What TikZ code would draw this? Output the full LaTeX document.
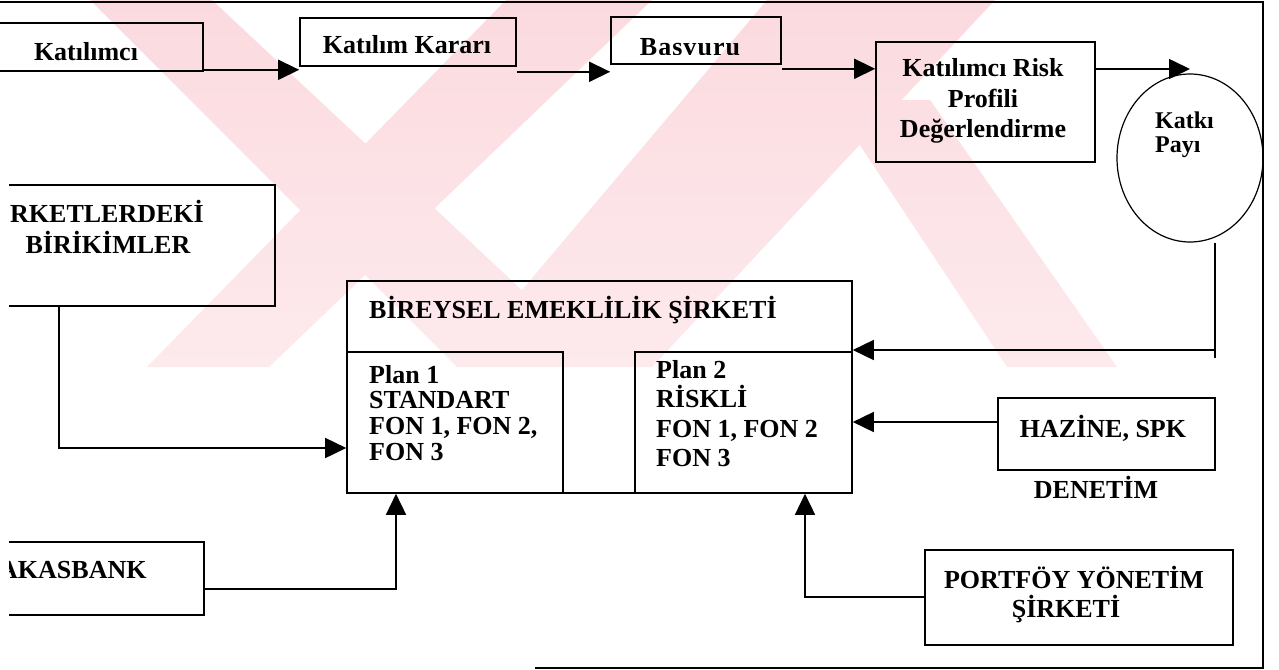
\documentclass[tikz,border=0pt]{standalone}
\usepackage{fontspec}
\setmainfont{Liberation Serif}
\usetikzlibrary{arrows.meta,shapes.geometric}
\definecolor{wmtop}{RGB}{251,218,223}
\definecolor{wmbot}{RGB}{253,234,237}
\begin{document}
\begin{tikzpicture}[x=1pt,y=-1pt,
  box/.style={draw,rectangle,inner sep=0pt,line width=1.6pt},
  txt/.style={inner sep=0pt,anchor=base,font=\fontsize{26}{30}\selectfont\bfseries},
  txtl/.style={txt,anchor=base west},
  small/.style={inner sep=0pt,anchor=base west,font=\fontsize{24}{28}\selectfont\bfseries},
  arr/.style={-{Triangle[length=21pt,width=20pt]},line width=1.6pt},
  conn/.style={line width=1.6pt},
  ]
\useasboundingbox (0,0) rectangle (1279,669);
\fill[white] (0,0) rectangle (1279,669);

% watermark (pale diagonal bands)
\begin{scope}
\clip (90,0) -- (212,0) -- (604,367) -- (457,367) -- cycle
      (506,0) -- (652,0) -- (269,367) -- (147,367) -- cycle
      (767,0) -- (995,0) -- (652,367) -- (457,367) -- cycle
      (830,100) -- (930,100) -- (1117,367) -- (1007,367) -- cycle;
\shade[top color=wmtop,bottom color=wmbot] (0,0) rectangle (1279,367);
\end{scope}

% frame
\draw[line width=1.3pt] (0,2) -- (1263,2) -- (1263,668) -- (535,668);

% row 1
\node[box,minimum width=223pt,minimum height=48pt] (kat) at (91.5,47) {};
\node[txt] (katt) at (86,60) {Katılımcı};
\node[box,minimum width=216pt,minimum height=48pt] (kk) at (408,42) {};
\node[txt] (kkt) at (407,53) {Katılım Kararı};
\node[box,minimum width=170pt,minimum height=47pt] (bas) at (696,40.5) {};
\begin{scope}
\clip (611,17) rectangle (781,55);
\node[txt] (bast) at (690,56) {\addfontfeature{LetterSpace=4}Basvuru};
\end{scope}
\node[box,minimum width=219pt,minimum height=120pt] (risk) at (985.5,102) {};
\node[txt] (r1) at (983,77) {Katılımcı Risk};
\node[txt] (r2) at (983,107) {Profili};
\node[txt] (r3) at (983,137) {Değerlendirme};
\node[draw,ellipse,line width=1.2pt,minimum width=146pt,minimum height=168pt,inner sep=0pt] (kp) at (1190,158) {};
\node[small] (kp1) at (1155,128) {Katkı};
\node[small] (kp2) at (1155,152) {Payı};

\draw[arr] ([yshift=2pt]kat.south east) coordinate (a1) -- (a1 -| kk.west);
\draw[arr] ([yshift=-5pt]kk.south east) coordinate (a2) -- (a2 -| bas.west);
\draw[arr] ([yshift=-4pt]bas.south east) coordinate (a3) -- (a3 -| risk.west);
\coordinate (a4e) at (1190,69);
\draw[arr] (risk.east |- a4e) -- (a4e);

% middle
\begin{scope}
\clip (9,0) rectangle (1279,669);
\node[box,minimum width=295pt,minimum height=121pt] (bir) at (127.5,245.5) {};
\node[txt] (bir1) at (107,222) {RKETLERDEKİ};
\node[txt] (bir2) at (108,253) {BİRİKİMLER};
\node[box,minimum width=224pt,minimum height=73pt] (kas) at (92,578.5) {};
\node[txtl] (kast) at (-1,578) {AKASBANK};
\end{scope}

\node[box,minimum width=505pt,minimum height=212pt] (bes) at (599.5,387) {};
\node[txtl] (best) at (369,318) {BİREYSEL EMEKLİLİK ŞİRKETİ};
\node[box,minimum width=216pt,minimum height=141pt] (p1) at (455,422.5) {};
\node[txtl] (p1a) at (369,383) {Plan 1};
\node[txtl] (p1b) at (369,408) {STANDART};
\node[txtl] (p1c) at (369,434) {FON 1, FON 2,};
\node[txtl] (p1d) at (369,460) {FON 3};
\node[box,minimum width=217pt,minimum height=141pt] (p2) at (743.5,422.5) {};
\node[txtl] (p2a) at (656,378) {Plan 2};
\node[txtl] (p2b) at (656,407) {RİSKLİ};
\node[txtl] (p2c) at (656,437) {FON 1, FON 2};
\node[txtl] (p2d) at (656,466) {FON 3};

\node[box,minimum width=217pt,minimum height=72pt] (haz) at (1106.5,434) {};
\node[txt] (hazt) at (1103,437) {HAZİNE, SPK};
\node[txt] (den) at (1096,498) {DENETİM};

\node[box,minimum width=308pt,minimum height=95pt] (pf) at (1079,597.5) {};
\node[txt] (pf1) at (1074,588) {PORTFÖY YÖNETİM};
\node[txt] (pf2) at (1066,617) {ŞİRKETİ};

% connectors
\coordinate (kpc) at (1215,350);
\draw[conn,line width=1.3pt] (kp.south -| kpc) -- ++(0,115);
\draw[arr] (kpc) -- (kpc -| bes.east);
\draw[arr] ([yshift=12pt]haz.west) coordinate (hz) -- (hz -| bes.east);
\coordinate (c1) at (59,448);
\draw[arr] (bir.south -| c1) -- (c1) -- (c1 -| p1.west);
\coordinate (c2) at (396,589);
\draw[arr] (kas.east |- c2) -- (c2) -- (c2 |- p1.south);
\coordinate (c3) at (805,597);
\draw[arr] (pf.west |- c3) -- (c3) -- (c3 |- p2.south);
\end{tikzpicture}
\end{document}
